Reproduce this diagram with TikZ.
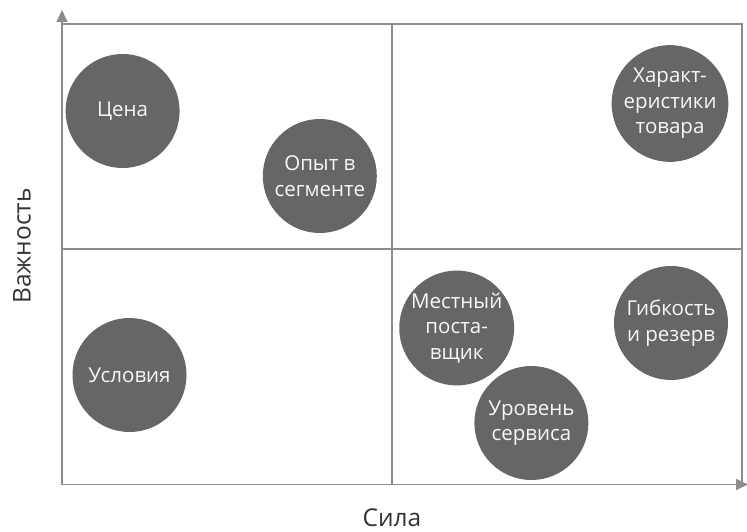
\documentclass[tikz,border=0pt]{standalone}
\usepackage{fontspec}
\setmainfont{Open Sans}
\usetikzlibrary{arrows.meta}
\definecolor{bubfill}{HTML}{666666}
\definecolor{bubtext}{HTML}{F7F7F7}
\definecolor{linegray}{HTML}{8C8C8C}
\definecolor{labelgray}{HTML}{333333}
\tikzset{
  bub/.style={circle, fill=bubfill, text=bubtext, minimum size=114pt, inner sep=0pt,
    align=center, font=\fontsize{20.5}{25.5}\selectfont},
  frameline/.style={draw=linegray, line width=1.6pt},
  gridline/.style={draw=linegray, line width=1.3pt},
  axislabel/.style={text=labelgray, font=\fontsize{24.5}{28}\selectfont, inner sep=0pt}
}
\begin{document}
\begin{tikzpicture}[x=1pt, y=-1pt]
\useasboundingbox (0,0) rectangle (747,532);
% frame coordinates
\coordinate (O) at (62,484.5);
\coordinate (ytip) at (62,10);
\coordinate (xtip) at (748,484.5);
\coordinate (tl) at (62,24);
\coordinate (tr) at (742,24);
\coordinate (br) at (742,484.5);
\coordinate (mt) at (392,24);
\coordinate (mb) at (392,484.5);
\coordinate (ml) at (62,249);
\coordinate (mr) at (742,249);
% grid
\draw[gridline] (mt) -- (mb);
\draw[gridline] (ml) -- (mr);
\draw[frameline] (tl) -- (tr) -- (br);
% axes
\draw[frameline, -{Triangle[width=11pt,length=12pt]}] (O) -- (ytip);
\draw[frameline, -{Triangle[width=11pt,length=12pt]}] (O) -- (xtip);
% bubbles
\node[bub] (cena) at (122.6,111) {Цена};
\node[bub] (opyt) at (319.8,176) {Опыт в\\сегменте};
\node[bub] (har) at (670,103.5) {Характ-\\еристики\\товара};
\node[bub] (usl) at (129.5,375) {Условия};
\node[bub] (mest) at (456.7,328) {Местный\\поста-\\вщик};
\node[bub] (gib) at (671,323) {Гибкость\\и резерв};
\node[bub] (urov) at (531.4,423) {Уровень\\сервиса};
% axis labels
\node[axislabel] (sila) at (392,517.5) {Сила};
\node[axislabel, rotate=90] (vazh) at (22,246) {Важность};
\end{tikzpicture}
\end{document}
